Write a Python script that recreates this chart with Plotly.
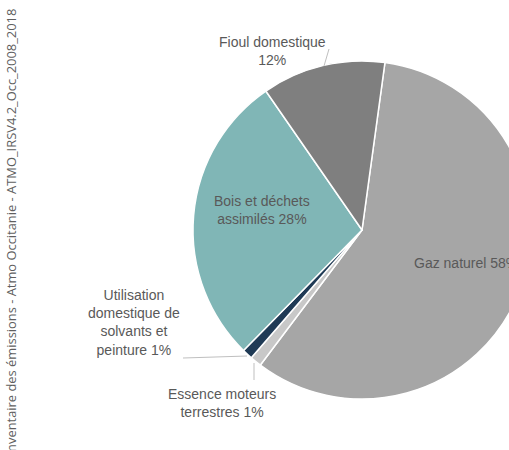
import plotly.graph_objects as go

# Data
labels = ["Gaz naturel", "Essence moteurs terrestres",
          "Utilisation domestique de solvants et peinture",
          "Bois et déchets assimilés", "Fioul domestique"]
values = [58.1, 1.1, 1.0, 28.0, 11.8]
colors = ["#A6A6A6", "#C8C8C8", "#1F3A55", "#80B6B6", "#7F7F7F"]
label_texts = ["Gaz naturel 58%", "Essence moteurs<br>terrestres 1%",
               "Utilisation<br>domestique de<br>solvants et<br>peinture 1%",
               "Bois et déchets<br>assimilés 28%", "Fioul domestique<br>12%"]
source = "Inventaire des émissions - Atmo Occitanie - ATMO_IRSV4.2_Occ_2008_2018"

W, H = 540, 450
cx, cy, r = 362, 230, 169

def px(x):
    return x / W

def py(y):
    return 1 - y / H

fig = go.Figure(go.Pie(
    labels=labels, values=values, sort=False, direction="clockwise",
    rotation=7.8, textinfo="none", showlegend=False,
    marker=dict(colors=colors, line=dict(color="white", width=1.5)),
    domain=dict(x=[px(cx - r), px(cx + r)], y=[py(cy + r), py(cy - r)]),
))

font = dict(family="Liberation Sans, Arial", size=14, color="#595959")
ann_pos = [
    (466, 263, "center", "middle"),
    (222, 403, "center", "middle"),
    (182, 322, "right", "middle"),
    (262, 210, "center", "middle"),
    (272, 51, "center", "middle"),
]
annotations = []
for t, (x, y, xa, ya) in zip(label_texts, ann_pos):
    annotations.append(dict(text=t, x=px(x), y=py(y), xref="paper", yref="paper",
                            xanchor=xa, yanchor=ya, showarrow=False, font=font,
                            align="center"))
annotations.append(dict(text=source, x=px(10), y=py(7), xref="paper", yref="paper",
                        xanchor="center", yanchor="top", textangle=-90, showarrow=False,
                        font=dict(family="Open Sans", size=12.9, color="#5f5f5f")))

line_style = dict(color="#BFBFBF", width=1)
shapes = [
    dict(type="line", xref="paper", yref="paper", x0=px(329), y0=py(49), x1=px(324), y1=py(66), line=line_style),
    dict(type="line", xref="paper", yref="paper", x0=px(183), y0=py(358), x1=px(247), y1=py(356), line=line_style),
    dict(type="line", xref="paper", yref="paper", x0=px(254), y0=py(363), x1=px(254), y1=py(380), line=line_style),
]

fig.update_layout(width=W, height=H, margin=dict(l=0, r=0, t=0, b=0),
                  paper_bgcolor="white", plot_bgcolor="white",
                  annotations=annotations, shapes=shapes)

fig.write_html("out.html", config={"displayModeBar": False},
               post_script="document.body.style.margin='0';document.body.style.overflow='hidden';document.documentElement.style.overflow='hidden';")
